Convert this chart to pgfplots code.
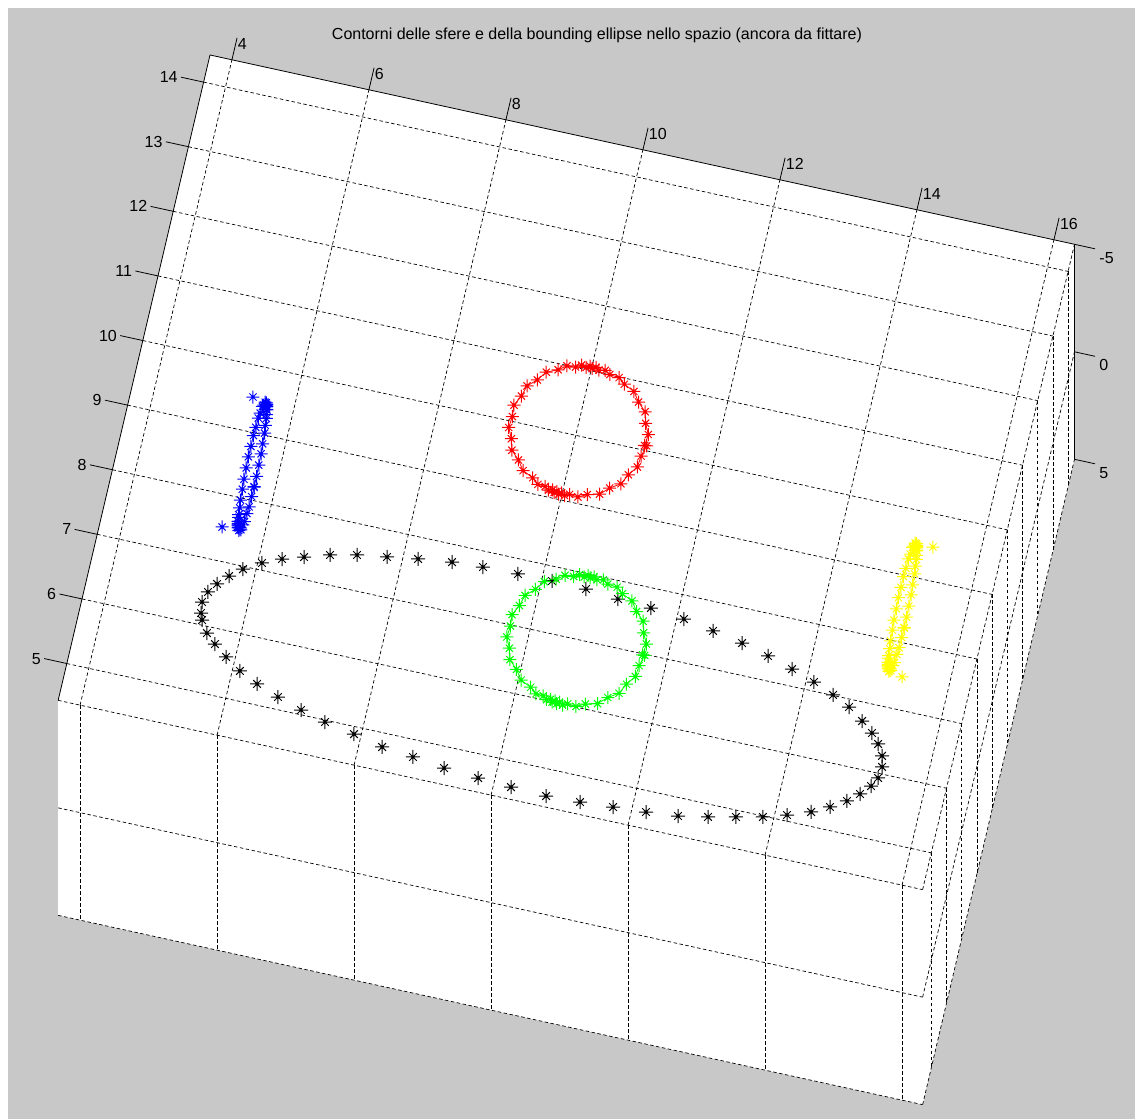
\documentclass[border=0pt]{standalone}
\usepackage{pgfplots}
\pgfplotsset{compat=1.18}
\usepackage{fontspec}
\setmainfont{Liberation Sans}
\usetikzlibrary{backgrounds}
\definecolor{figbg}{RGB}{200,200,200}
\definecolor{mred}{RGB}{255,0,0}
\definecolor{mgreen}{RGB}{0,255,0}
\definecolor{mblue}{RGB}{0,0,255}
\definecolor{myellow}{RGB}{255,255,0}
\newcommand\tfont{\fontsize{16}{19}\selectfont}
\pgfdeclareplotmark{mstar}{%
  \pgfpathmoveto{\pgfqpoint{-\pgfplotmarksize}{0pt}}%
  \pgfpathlineto{\pgfqpoint{\pgfplotmarksize}{0pt}}%
  \pgfpathmoveto{\pgfqpoint{0pt}{-\pgfplotmarksize}}%
  \pgfpathlineto{\pgfqpoint{0pt}{\pgfplotmarksize}}%
  \pgfpathmoveto{\pgfqpoint{-.55\pgfplotmarksize}{-.55\pgfplotmarksize}}%
  \pgfpathlineto{\pgfqpoint{.55\pgfplotmarksize}{.55\pgfplotmarksize}}%
  \pgfpathmoveto{\pgfqpoint{-.55\pgfplotmarksize}{.55\pgfplotmarksize}}%
  \pgfpathlineto{\pgfqpoint{.55\pgfplotmarksize}{-.55\pgfplotmarksize}}%
  \pgfusepathqstroke
  \pgfpathcircle{\pgfpointorigin}{.22\pgfplotmarksize}%
  \pgfusepathqfill}
\begin{document}
\begin{tikzpicture}
\begin{axis}[
  x={(68.5pt,-15pt)}, y={(15.2pt,64.6pt)}, z={(0pt,-21.5pt)},
  xmin=3.68, xmax=16.3, ymin=4.43, ymax=14.42, zmin=-5, zmax=5,
  xtick={4,6,...,16}, ytick={5,6,...,14}, ztick={-5,0,5},
  xticklabel={\empty}, yticklabel={\empty}, zticklabel={\empty},
  grid=major,
  major grid style={black, line width=0.7pt, dash pattern=on 3.5pt off 2.5pt},
  major tick length=0pt,
  tick style={draw=none},
  axis line style={draw=none},
  clip=false,
]
\coordinate (TL) at (axis cs:3.68,14.42,-5);
\coordinate (TR) at (axis cs:16.3,14.42,-5);
\coordinate (TRp) at (axis cs:16.3,14.42,5);
\coordinate (BRp) at (axis cs:16.3,4.43,5);
\coordinate (BLp) at (axis cs:3.68,4.43,5);
\coordinate (BL) at (axis cs:3.68,4.43,-5);
% axis lines with ticks and labels
\draw[black, line width=0.8pt] (axis cs:3.68,14.42,-5) -- (axis cs:16.3,14.42,-5);
\draw[black, line width=0.8pt] (axis cs:3.68,14.42,-5) -- (axis cs:3.68,4.43,-5);
\draw[black, line width=0.8pt] (axis cs:16.3,14.42,-5) -- (axis cs:16.3,14.42,5);
\pgfplotsinvokeforeach{4,6,...,16}{
  \draw[black, line width=0.8pt] (axis cs:#1,14.42,-5) -- (axis cs:#1,14.76,-5)
    node[anchor=north west, inner sep=0pt, xshift=0.5pt, font=\tfont] {#1};
}
\pgfplotsinvokeforeach{5,6,...,14}{
  \draw[black, line width=0.8pt] (axis cs:3.68,#1,-5) -- (axis cs:3.35,#1,-5)
    node[anchor=east, inner sep=0pt, xshift=-3pt, font=\tfont] {#1};
}
\pgfplotsinvokeforeach{-5,0,5}{
  \draw[black, line width=0.8pt] (axis cs:16.3,14.42,#1) -- (axis cs:16.6,14.42,#1)
    node[anchor=north west, inner sep=0pt, xshift=4pt, yshift=-3pt, font=\tfont] {#1};
}
% bounding ellipse
\addplot3[only marks, mark=mstar, mark size=7pt, black, line width=1pt] table {
x y z
5.027 7.759 0
5.005 7.924 0
5.055 8.091 0
5.154 8.238 0
5.295 8.393 0
5.466 8.541 0
5.710 8.692 0
5.975 8.815 0
6.274 8.915 0
6.628 9.029 0
7.003 9.116 0
7.426 9.183 0
7.863 9.254 0
8.345 9.318 0
8.791 9.345 0
9.300 9.355 0
9.795 9.362 0
10.293 9.353 0
10.770 9.309 0
11.257 9.283 0
11.751 9.227 0
12.194 9.145 0
12.636 9.061 0
13.039 8.954 0
13.415 8.839 0
13.762 8.719 0
14.069 8.590 0
14.330 8.464 0
14.557 8.300 0
14.734 8.155 0
14.854 8.013 0
14.948 7.850 0
14.984 7.688 0
14.965 7.513 0
14.894 7.372 0
14.767 7.219 0
14.609 7.074 0
14.393 6.931 0
14.146 6.796 0
13.822 6.674 0
13.495 6.568 0
13.120 6.481 0
12.732 6.391 0
12.312 6.308 0
11.855 6.264 0
11.381 6.231 0
10.906 6.198 0
10.415 6.177 0
9.899 6.196 0
9.412 6.223 0
8.907 6.260 0
8.440 6.323 0
7.978 6.370 0
7.546 6.470 0
7.104 6.554 0
6.732 6.653 0
6.370 6.770 0
6.036 6.895 0
5.757 7.031 0
5.518 7.192 0
5.322 7.347 0
5.175 7.483 0
5.064 7.659 0
};
% blue sphere contour
\addplot3[mblue, line width=0.8pt, mark=mstar, mark size=6.5pt, mark options={line width=1pt}] table {
x y z
5.286 10.081 0.917
5.286 10.245 0.931
5.285 10.395 0.862
5.283 10.554 0.819
5.281 10.670 0.702
5.278 10.805 0.608
5.274 10.875 0.459
5.272 10.951 0.370
5.269 10.966 0.238
5.267 11.012 0.164
5.265 10.994 0.080
5.264 11.025 0.033
5.263 10.998 -0.015
5.262 11.025 -0.049
5.261 10.993 -0.096
5.259 11.012 -0.164
5.257 10.966 -0.238
5.254 10.957 -0.354
5.252 10.875 -0.459
5.248 10.805 -0.608
5.245 10.670 -0.702
5.243 10.554 -0.819
5.241 10.395 -0.862
5.240 10.245 -0.931
5.240 10.081 -0.917
5.240 9.917 -0.931
5.241 9.768 -0.862
5.243 9.608 -0.819
5.245 9.492 -0.702
5.248 9.357 -0.608
5.252 9.287 -0.459
5.254 9.211 -0.370
5.256 9.204 -0.268
5.258 9.160 -0.213
5.259 9.178 -0.160
5.260 9.145 -0.131
5.261 9.169 -0.096
5.261 9.138 -0.067
5.262 9.165 -0.032
5.263 9.136 0.016
5.265 9.168 0.080
5.268 9.157 0.197
5.271 9.219 0.314
5.275 9.262 0.473
5.278 9.379 0.589
5.281 9.473 0.724
5.283 9.622 0.794
5.285 9.758 0.888
5.286 9.921 0.903
5.287 10.081 0.945
};
\addplot3[only marks, mblue, mark=mstar, mark size=6.5pt, mark options={line width=1pt}] table {
x y z
5.043 11.106 0
5.038 9.093 0
};
% red sphere contour
\addplot3[mred, line width=0.8pt, mark=mstar, mark size=6.5pt, mark options={line width=1pt}] table {
x y z
10.638 11.655 0
10.653 11.828 0
10.580 11.985 0
10.535 12.153 0
10.412 12.275 0
10.313 12.417 0
10.156 12.491 0
10.062 12.571 0
9.923 12.587 0
9.846 12.635 0
9.757 12.616 0
9.708 12.649 0
9.657 12.620 0
9.621 12.649 0
9.572 12.615 0
9.500 12.635 0
9.423 12.587 0
9.300 12.577 0
9.190 12.491 0
9.033 12.417 0
8.934 12.275 0
8.811 12.153 0
8.766 11.985 0
8.693 11.828 0
8.708 11.655 0
8.693 11.482 0
8.766 11.325 0
8.811 11.157 0
8.934 11.035 0
9.033 10.893 0
9.190 10.819 0
9.284 10.739 0
9.391 10.732 0
9.449 10.686 0
9.505 10.704 0
9.535 10.670 0
9.572 10.695 0
9.603 10.662 0
9.639 10.691 0
9.690 10.660 0
9.757 10.694 0
9.880 10.682 0
10.003 10.748 0
10.171 10.793 0
10.293 10.916 0
10.435 11.015 0
10.509 11.172 0
10.608 11.315 0
10.624 11.487 0
10.668 11.655 0
};
% green sphere contour
\addplot3[mgreen, line width=0.8pt, mark=mstar, mark size=6.5pt, mark options={line width=1pt}] table {
x y z
11.295 8.565 0
11.310 8.738 0
11.237 8.895 0
11.192 9.063 0
11.069 9.185 0
10.970 9.327 0
10.813 9.401 0
10.719 9.481 0
10.580 9.497 0
10.503 9.545 0
10.414 9.526 0
10.365 9.559 0
10.314 9.530 0
10.278 9.559 0
10.229 9.525 0
10.157 9.545 0
10.080 9.497 0
9.957 9.487 0
9.847 9.401 0
9.690 9.327 0
9.591 9.185 0
9.468 9.063 0
9.423 8.895 0
9.350 8.738 0
9.365 8.565 0
9.350 8.392 0
9.423 8.235 0
9.468 8.067 0
9.591 7.945 0
9.690 7.803 0
9.847 7.729 0
9.941 7.649 0
10.048 7.642 0
10.106 7.596 0
10.162 7.614 0
10.192 7.580 0
10.229 7.605 0
10.260 7.572 0
10.296 7.601 0
10.347 7.570 0
10.414 7.604 0
10.537 7.592 0
10.660 7.658 0
10.828 7.703 0
10.950 7.826 0
11.092 7.925 0
11.166 8.082 0
11.265 8.225 0
11.281 8.397 0
11.325 8.565 0
};
% yellow sphere contour
\addplot3[myellow, line width=0.8pt, mark=mstar, mark size=6.5pt, mark options={line width=1pt}] table {
x y z
14.771 10.102 0.917
14.771 10.266 0.931
14.770 10.416 0.862
14.768 10.575 0.819
14.766 10.691 0.702
14.763 10.826 0.608
14.759 10.896 0.459
14.757 10.972 0.370
14.754 10.987 0.238
14.752 11.033 0.164
14.750 11.015 0.080
14.749 11.046 0.033
14.748 11.019 -0.015
14.747 11.046 -0.049
14.746 11.014 -0.096
14.744 11.033 -0.164
14.742 10.987 -0.238
14.739 10.978 -0.354
14.737 10.896 -0.459
14.733 10.826 -0.608
14.730 10.691 -0.702
14.728 10.575 -0.819
14.726 10.416 -0.862
14.725 10.266 -0.931
14.725 10.102 -0.917
14.725 9.938 -0.931
14.726 9.789 -0.862
14.728 9.629 -0.819
14.730 9.513 -0.702
14.733 9.378 -0.608
14.737 9.308 -0.459
14.739 9.232 -0.370
14.741 9.225 -0.268
14.743 9.181 -0.213
14.744 9.199 -0.160
14.745 9.166 -0.131
14.746 9.190 -0.096
14.746 9.159 -0.067
14.747 9.186 -0.032
14.748 9.157 0.016
14.750 9.189 0.080
14.753 9.178 0.197
14.756 9.240 0.314
14.760 9.283 0.473
14.763 9.400 0.589
14.766 9.494 0.724
14.768 9.643 0.794
14.770 9.779 0.888
14.771 9.942 0.903
14.772 10.102 0.945
};
\addplot3[only marks, myellow, mark=mstar, mark size=6.5pt, mark options={line width=1pt}] table {
x y z
14.973 11.090 0
14.968 9.077 0
};
\end{axis}
\path ([shift={(-210pt,55pt)}]TL) coordinate (P0);
\begin{scope}[on background layer]
  \fill[white] (P0) rectangle ++(1135pt,-1119pt);
  \fill[figbg] (P0) ++(8pt,-8pt) rectangle ++(1127pt,-1111pt);
  \fill[white] (TL)--(TR)--(TRp)--(BRp)--(BLp)--(BL)--cycle;
\end{scope}
\node[font=\tfont] at ([shift={(597pt,-35pt)}]P0) {Contorni delle sfere e della bounding ellipse nello spazio (ancora da fittare)};
\pgfresetboundingbox
\path[use as bounding box] (P0) rectangle ++(1135pt,-1119pt);
\end{tikzpicture}
\end{document}
